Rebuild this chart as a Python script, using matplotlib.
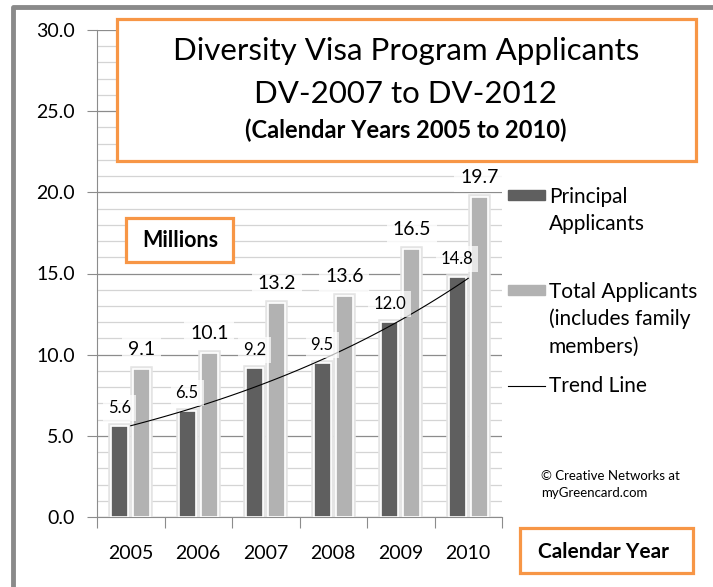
import matplotlib.pyplot as plt
import numpy as np
from matplotlib.patches import Rectangle
from matplotlib.lines import Line2D
from matplotlib.ticker import MultipleLocator, FixedLocator, NullFormatter
import matplotlib.patheffects as pe

plt.rcParams['font.family'] = ['Lato', 'DejaVu Sans']

years = ["2005", "2006", "2007", "2008", "2009", "2010"]
principal = [5.6, 6.5, 9.2, 9.5, 12.0, 14.8]
total = [9.1, 10.1, 13.2, 13.6, 16.5, 19.7]

DARK = '#5f5f5f'
LIGHT = '#b2b2b2'
ORANGE = '#f79646'
W, H = 713, 587


def fx(px):
    return px / W


def fy(py):
    return 1 - py / H


fig = plt.figure(figsize=(7.13, 5.87), dpi=100)
ax = fig.add_axes([fx(97), fy(517), fx(502) - fx(97), fy(30) - fy(517)])

x = np.arange(len(years))
glow = [pe.withStroke(linewidth=4, foreground='#e4e4e4')]
b1 = ax.bar(x - 0.165, principal, width=0.25, color=DARK, edgecolor='white',
            linewidth=1.2, zorder=3, path_effects=glow)
b2 = ax.bar(x + 0.165, total, width=0.25, color=LIGHT, edgecolor='white',
            linewidth=1.2, zorder=3, path_effects=glow)

# exponential trend fitted to principal applicants
coef = np.polyfit(x, np.log(principal), 1)
xt = np.linspace(0, len(years) - 1, 100)
ax.plot(xt, np.exp(np.polyval(coef, xt)), color='black', lw=0.8, zorder=4)

for xi, v in zip(x, principal):
    ax.annotate(f'{v:.1f}', (xi - 0.165, v), xytext=(0, 13), textcoords='offset points',
                ha='center', va='center', fontsize=12, zorder=6,
                bbox=dict(boxstyle='square,pad=0.3', fc='white', ec='none', alpha=0.7))
for xi, v in zip(x, total):
    ax.annotate(f'{v:.1f}', (xi + 0.165, v), xytext=(0, 14), textcoords='offset points',
                ha='center', va='center', fontsize=14, zorder=6,
                bbox=dict(boxstyle='square,pad=0.3', fc='white', ec='none', alpha=0.8))

ax.set_xlim(-0.5, len(years) - 0.5)
ax.set_ylim(0, 30)
ax.yaxis.set_major_locator(MultipleLocator(5))
ax.yaxis.set_minor_locator(MultipleLocator(1))
ax.yaxis.set_major_formatter(lambda v, p: f'{v:.1f}')
ax.grid(axis='y', which='major', color='#8c8c8c', lw=0.9, zorder=0)
ax.grid(axis='y', which='minor', color='#d4d4d4', lw=0.9, zorder=0)
ax.set_axisbelow(True)
ax.tick_params(axis='y', which='major', length=7, color='#8c8c8c', labelsize=14, pad=9)
ax.tick_params(axis='y', which='minor', length=0)

ax.xaxis.set_major_locator(FixedLocator(np.arange(-0.5, len(years), 1.0)))
ax.xaxis.set_major_formatter(NullFormatter())
ax.xaxis.set_minor_locator(FixedLocator(x))
ax.set_xticks(x, years, minor=True)
ax.tick_params(axis='x', which='major', length=8, color='#8c8c8c')
ax.tick_params(axis='x', which='minor', length=0, labelsize=14, pad=20)

for s in ['top', 'right']:
    ax.spines[s].set_visible(False)
for s in ['left', 'bottom']:
    ax.spines[s].set_color('#8c8c8c')

# outer frame (left and top)
fig.add_artist(Line2D([fx(13), fx(13), 1], [0, fy(7), fy(7)], color='#8a8a8a', lw=3.5,
                      transform=fig.transFigure))

# boxes
def box(x0, y0, x1, y1):
    fig.add_artist(Rectangle((fx(x0), fy(y1)), fx(x1) - fx(x0), fy(y0) - fy(y1),
                             transform=fig.transFigure, fc='white', ec=ORANGE, lw=2.3, zorder=5))


box(117, 19, 696, 161)
fig.text(fx(406), fy(60), 'Diversity Visa Program Applicants', ha='center', va='baseline',
         fontsize=22.5, zorder=6)
fig.text(fx(406), fy(103), 'DV-2007 to DV-2012', ha='center', va='baseline', fontsize=22.5, zorder=6)
fig.text(fx(406), fy(138), '(Calendar Years 2005 to 2010)', ha='center', va='baseline',
         fontsize=17, fontweight='bold', zorder=6)

box(126, 218, 233, 262)
fig.text(fx(180), fy(247), 'Millions', ha='center', va='baseline', fontsize=15.5,
         fontweight='bold', zorder=6)

box(520, 528, 693, 573)
fig.text(fx(603), fy(558), 'Calendar Year', ha='center', va='baseline', fontsize=15,
         fontweight='bold', zorder=6)

# legend
fig.add_artist(Rectangle((fx(508), fy(200)), fx(545) - fx(508), fy(190) - fy(200),
                         transform=fig.transFigure, color=DARK))
fig.add_artist(Rectangle((fx(508), fy(295)), fx(545) - fx(508), fy(285) - fy(295),
                         transform=fig.transFigure, color=LIGHT))
fig.add_artist(Line2D([fx(508), fx(545)], [fy(386), fy(386)], color='black', lw=0.8,
                      transform=fig.transFigure))
for ty, t in [(203, 'Principal'), (230, 'Applicants'), (298, 'Total Applicants'),
              (325, '(includes family'), (353, 'members)'), (392, 'Trend Line')]:
    fig.text(fx(549), fy(ty), t, ha='left', va='baseline', fontsize=15)

fig.text(fx(541), fy(480), '\u00a9 Creative Networks at', ha='left', va='baseline', fontsize=9.5)
fig.text(fx(541), fy(497), 'myGreencard.com', ha='left', va='baseline', fontsize=9.5)

fig.savefig('out.png', dpi=100, facecolor='white')
